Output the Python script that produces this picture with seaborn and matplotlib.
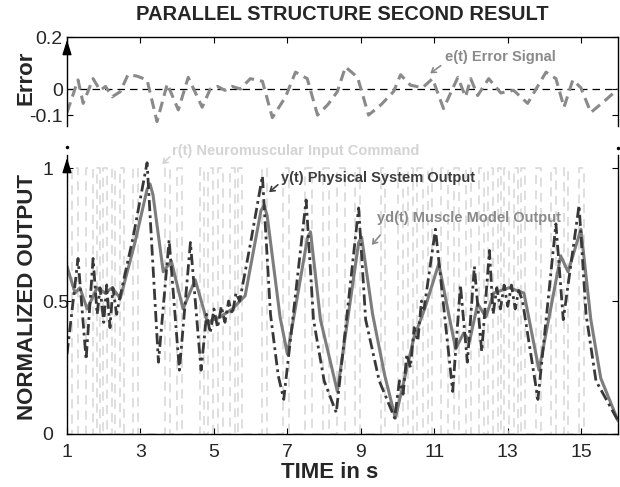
import numpy as np
import pandas as pd
import matplotlib
matplotlib.use("Agg")
import matplotlib.pyplot as plt
import seaborn as sns

# e(t) error signal
err_t = [1.0, 1.3, 1.44, 1.71, 1.9, 2.05, 2.23, 2.45, 2.66, 2.9, 3.18, 3.45, 3.73, 4.03, 4.3, 4.68,
         4.9, 5.1, 5.3, 5.5, 5.72, 5.99, 6.32, 6.59, 6.95, 7.22, 7.54, 7.82, 8.1, 8.36, 8.58, 8.91,
         9.21, 9.55, 9.89, 10.08, 10.35, 10.68, 10.95, 11.25, 11.64, 11.85, 11.99, 12.18, 12.48, 12.81,
         13.16, 13.35, 13.54, 14.04, 14.31, 14.53, 14.77, 14.99, 15.26, 15.6, 16.0]
err_v = [-0.09, 0.035, -0.055, 0.04, -0.005, 0.01, -0.03, -0.01, 0.055, 0.05, 0.035, -0.125, 0.02,
         -0.08, 0.045, -0.07, 0.0, 0.01, -0.005, 0.01, 0.0, 0.04, 0.03, -0.11, -0.03, 0.065, 0.04,
         -0.1, -0.06, -0.01, 0.085, 0.045, -0.1, -0.06, -0.01, 0.055, 0.015, 0.005, 0.04, -0.075,
         0.045, -0.03, 0.04, -0.025, 0.04, -0.015, -0.005, -0.03, -0.055, 0.065, 0.04, -0.07, 0.035,
         0.005, -0.09, -0.05, 0.0]

# yd(t) muscle model output
yd_t = [1.0, 1.22, 1.35, 1.55, 1.82, 2.04, 2.23, 2.45, 2.85, 3.18, 3.26, 3.34, 3.62, 3.84, 4.16,
        4.49, 4.82, 5.17, 5.5, 5.85, 6.28, 6.37, 6.45, 6.8, 7.0, 7.55, 7.63, 7.9, 8.36, 8.94, 9.02,
        9.32, 9.65, 9.94, 10.44, 10.76, 11.12, 11.58, 11.8, 11.96, 12.18, 12.4, 12.62, 13.03, 13.44,
        13.85, 14.44, 14.64, 14.99, 15.26, 15.53, 16.0]
yd_v = [0.63, 0.53, 0.55, 0.47, 0.55, 0.53, 0.55, 0.51, 0.72, 0.92, 0.94, 0.9, 0.61, 0.65, 0.47,
        0.58, 0.42, 0.44, 0.47, 0.52, 0.84, 0.86, 0.82, 0.44, 0.30, 0.74, 0.76, 0.43, 0.16, 0.72,
        0.74, 0.45, 0.22, 0.06, 0.36, 0.48, 0.64, 0.32, 0.38, 0.35, 0.49, 0.44, 0.53, 0.55, 0.53,
        0.24, 0.67, 0.61, 0.77, 0.43, 0.21, 0.05]

# y(t) physical system output
ys_t = [1.0, 1.3, 1.52, 1.71, 1.82, 1.9, 2.0, 2.08, 2.17, 2.25, 2.35, 2.45, 2.8, 3.18, 3.49, 3.78,
        4.06, 4.36, 4.65, 4.8, 4.9, 5.0, 5.1, 5.2, 5.3, 5.4, 5.5, 5.6, 5.7, 6.0, 6.32, 6.54, 6.75,
        6.9, 7.51, 7.71, 8.0, 8.33, 8.94, 9.13, 9.5, 9.92, 10.05, 10.15, 10.25, 10.35, 10.45, 10.55,
        10.65, 10.72, 11.03, 11.5, 11.71, 11.9, 12.09, 12.29, 12.5, 12.6, 12.7, 12.8, 12.9, 13.0,
        13.1, 13.2, 13.3, 13.4, 13.82, 14.31, 14.51, 14.94, 15.13, 15.4, 16.0]
ys_v = [0.30, 0.66, 0.28, 0.66, 0.45, 0.55, 0.42, 0.56, 0.40, 0.55, 0.45, 0.52, 0.74, 1.02, 0.27,
        0.73, 0.24, 0.72, 0.24, 0.45, 0.38, 0.47, 0.40, 0.48, 0.42, 0.50, 0.45, 0.53, 0.50, 0.72,
        0.97, 0.45, 0.22, 0.13, 0.88, 0.43, 0.2, 0.08, 0.85, 0.43, 0.2, 0.06, 0.20, 0.15, 0.30,
        0.25, 0.40, 0.35, 0.50, 0.47, 0.77, 0.16, 0.56, 0.27, 0.63, 0.31, 0.69, 0.45, 0.55, 0.47,
        0.56, 0.48, 0.56, 0.47, 0.54, 0.50, 0.13, 0.79, 0.43, 0.86, 0.45, 0.2, 0.05]

# r(t) neuromuscular input command: pulse rise / fall times
pulse_on = [1.14, 1.52, 1.82, 1.98, 2.23, 2.45, 2.80, 3.67, 4.00, 4.63, 4.85, 5.12, 5.45, 5.66,
            6.32, 6.89, 7.49, 7.98, 8.36, 8.85, 9.54, 10.00, 10.27, 10.54, 10.82, 11.17, 11.53,
            11.85, 12.21, 12.45, 12.73, 12.89, 13.16, 13.35, 13.76, 14.17, 14.53, 14.94]
pulse_off = [1.30, 1.71, 1.90, 2.09, 2.31, 2.55, 2.94, 3.80, 4.14, 4.74, 4.98, 5.25, 5.58, 5.77,
             6.45, 7.03, 7.68, 8.12, 8.58, 8.99, 9.67, 10.14, 10.41, 10.68, 10.95, 11.36, 11.66,
             11.99, 12.34, 12.59, 12.81, 13.03, 13.27, 13.46, 13.90, 14.31, 14.64, 15.07]

x_ticks = [1, 3, 5, 7, 9, 11, 13, 15]

# build the step signal for r(t)
r_t = [1.0]
r_v = [0]
for on, off in zip(pulse_on, pulse_off):
    r_t += [on, off]
    r_v += [1, 0]
r_t.append(16.0)
r_v.append(0)

err_df = pd.DataFrame({"t": err_t, "v": err_v})
yd_df = pd.DataFrame({"t": yd_t, "v": yd_v})
ys_df = pd.DataFrame({"t": ys_t, "v": ys_v})
r_df = pd.DataFrame({"t": r_t, "v": r_v})

sns.set_style("white")
plt.rcParams['font.family'] = ['Liberation Sans', 'DejaVu Sans']

W, H = 620, 487
fig = plt.figure(figsize=(W / 100, H / 100), dpi=100)
ax_e = fig.add_axes([67 / W, 1 - 126 / H, 551 / W, 89 / H])
ax_o = fig.add_axes([67 / W, 1 - 434 / H, 551 / W, 279 / H])

# ---- error panel
ax_e.axhline(0, color='black', lw=0.9, ls=(0, (6, 4)))
sns.lineplot(data=err_df, x="t", y="v", ax=ax_e, color='#8a8a8a', lw=2.2,
             estimator=None, sort=False, dashes=False, linestyle=(0, (3.5, 2)))
ax_e.set_xlim(1, 16)
ax_e.set_ylim(-0.142, 0.2)
ax_e.set_yticks([-0.1, 0, 0.2])
ax_e.set_yticklabels(['-0.1', '0', '0.2'])
ax_e.set_xticks(x_ticks)
ax_e.tick_params(axis='x', which='both', direction='in', length=4, top=True, bottom=False,
                 labelbottom=False, color='black', width=0.8)
ax_e.tick_params(axis='y', direction='in', length=4, left=True, right=True, pad=3,
                 labelsize=14, color='black', width=0.8)
ax_e.set_xlabel('')
ax_e.set_ylabel('Error', fontsize=16, fontweight='bold')
ax_e.yaxis.set_label_coords(-0.055, 0.54)
ax_e.spines['bottom'].set_visible(False)
for s in ['top', 'left', 'right']:
    ax_e.spines[s].set_color('black')
    ax_e.spines[s].set_linewidth(1.0)
ax_e.annotate('', xy=(0, 1.0), xytext=(0, 0.78), xycoords='axes fraction',
              arrowprops=dict(arrowstyle='-|>,head_length=0.9,head_width=0.28', color='black', lw=1))

# ---- output panel
sns.lineplot(data=r_df, x="t", y="v", ax=ax_o, color='#d6d6d6', lw=1.1, estimator=None,
             sort=False, drawstyle='steps-post', linestyle=(0, (6, 4)))
sns.lineplot(data=yd_df, x="t", y="v", ax=ax_o, color='#7d7d7d', lw=2.2, estimator=None, sort=False)
sns.lineplot(data=ys_df, x="t", y="v", ax=ax_o, color='#383838', lw=2.0, estimator=None,
             sort=False, linestyle=(0, (4, 1.5, 1, 1.5)))
ax_o.set_xlim(1, 16)
ax_o.set_ylim(0, 1.049)
ax_o.set_xticks(x_ticks)
ax_o.set_xticklabels([str(v) for v in x_ticks])
ax_o.set_yticks([0, 0.5, 1])
ax_o.set_yticklabels(['0', '0.5', '1'])
ax_o.tick_params(axis='x', direction='in', length=4, bottom=True, pad=7, labelsize=14,
                 color='black', width=0.8)
ax_o.tick_params(axis='y', direction='in', length=4, left=True, right=True, pad=18,
                 labelsize=14, color='black', width=0.8)
for lab in ax_o.get_yticklabels():
    lab.set_horizontalalignment('left')
ax_o.set_xlabel('TIME in s', fontsize=16, fontweight='bold')
ax_o.xaxis.set_label_coords(0.477, -0.1)
ax_o.set_ylabel('NORMALIZED OUTPUT', fontsize=16, fontweight='bold')
ax_o.yaxis.set_label_coords(-0.053, 0.49)
ax_o.spines['top'].set_visible(False)
for s in ['bottom', 'left', 'right']:
    ax_o.spines[s].set_color('black')
    ax_o.spines[s].set_linewidth(1.0)
ax_o.annotate('', xy=(0, 1.0), xytext=(0, 0.94), xycoords='axes fraction',
              arrowprops=dict(arrowstyle='-|>,head_length=0.9,head_width=0.28', color='black', lw=1))
ax_o.plot([0, 1], [1.03, 1.025], transform=ax_o.transAxes, ls='none', marker='o', ms=1.5,
          color='black', clip_on=False)

fig.text(342 / W, 1 - 15 / H, 'PARALLEL STRUCTURE SECOND RESULT', ha='center', va='center',
         fontsize=14.5, fontweight='bold')


def note(text, color, txt_xy, tip_xy, arrow_from):
    fig.text(txt_xy[0] / W, 1 - txt_xy[1] / H, text, ha='left', va='center', fontsize=10.5,
             fontweight='bold', color=color)
    fig.add_artist(matplotlib.patches.FancyArrowPatch(
        (arrow_from[0], H - arrow_from[1]), (tip_xy[0], H - tip_xy[1]),
        transform=None, arrowstyle='->,head_length=3,head_width=2', color=color, lw=1.2))


note('e(t) Error Signal', '#8a8a8a', (445, 57), (428, 75), (443, 64))
note('r(t) Neuromuscular Input Command', '#d4d4d4', (172, 151), (160, 166), (172, 155))
note('y(t) Physical System Output', '#3c3c3c', (281, 178), (267, 194), (280, 183))
note('yd(t) Muscle Model Output', '#8a8a8a', (377, 218), (370, 247), (382, 233))

fig.savefig('out.png', dpi=100)
